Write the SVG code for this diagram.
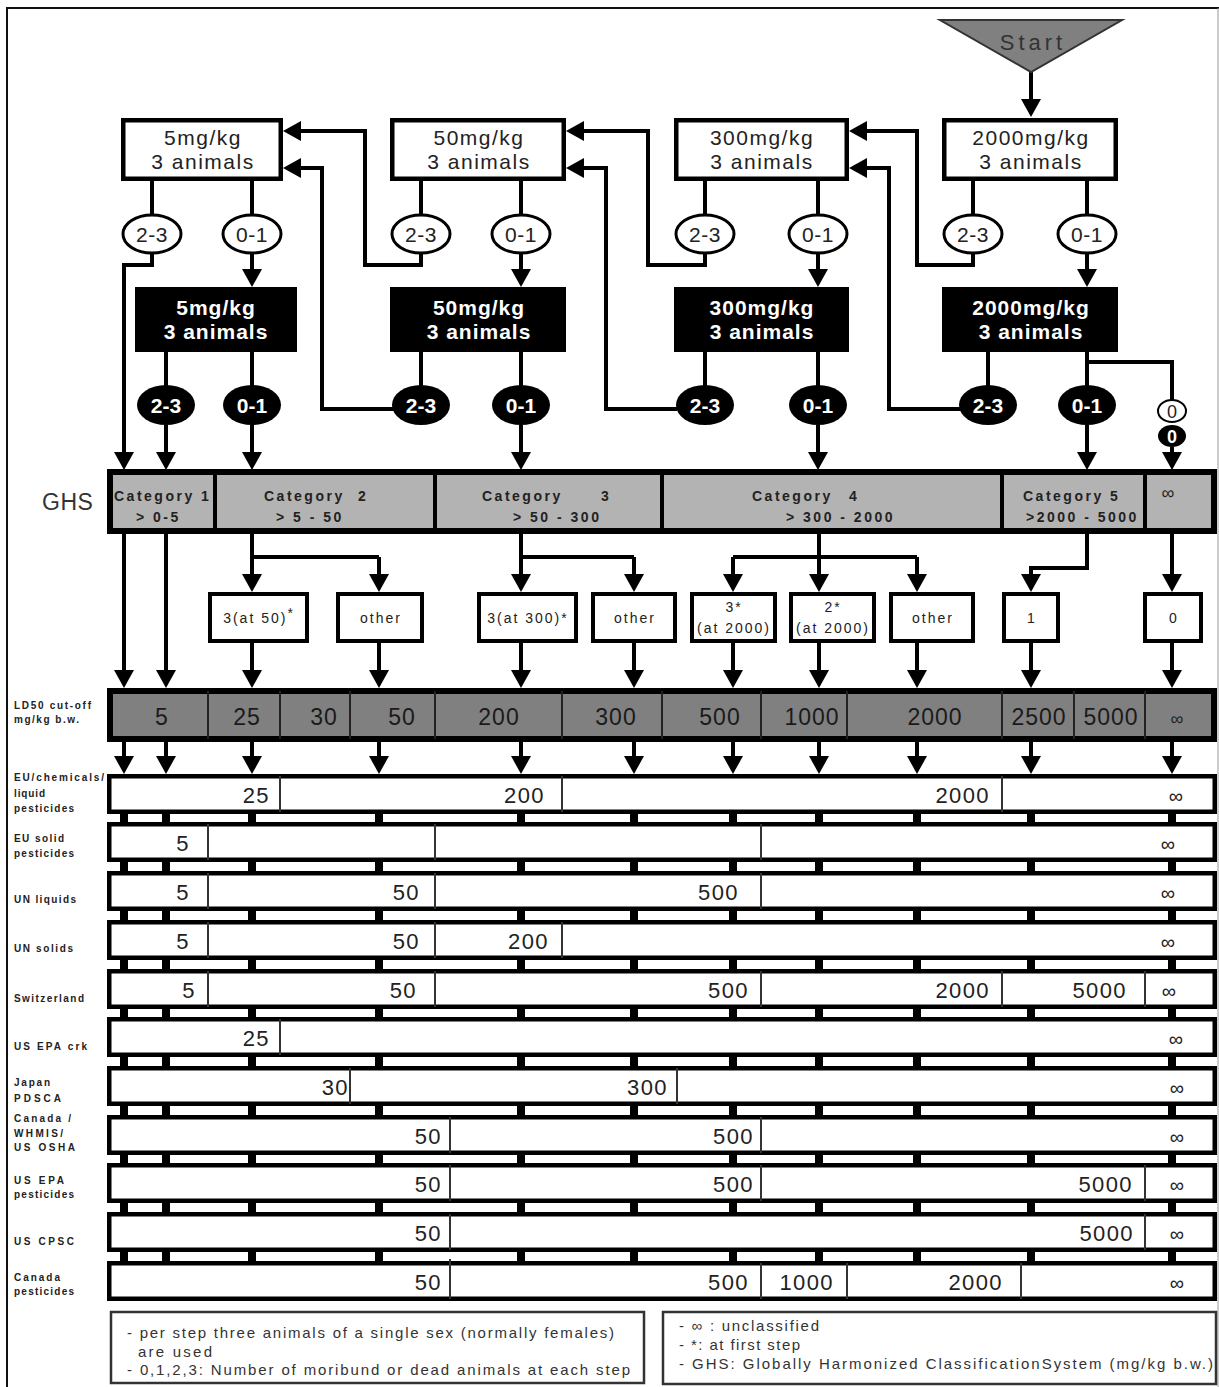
<svg xmlns="http://www.w3.org/2000/svg" width="1219" height="1387" viewBox="0 0 1219 1387">
<defs>
<marker id="ah" viewBox="0 0 18 20" refX="14" refY="10" markerWidth="18" markerHeight="20" markerUnits="userSpaceOnUse" orient="auto"><path d="M0,0 L18,10 L0,20 z" fill="#000"/></marker>
</defs>
<style>
text{font-family:"Liberation Sans",Arial,sans-serif;fill:#222}
.box{fill:#fff;stroke:#000;stroke-width:4.5}
.kbox{fill:#000}
.tb{font-size:21px;letter-spacing:1.5px;text-anchor:middle}
.tk{font-size:21px;font-weight:bold;letter-spacing:1px;text-anchor:middle;fill:#fff}
.wel{fill:#fff;stroke:#000;stroke-width:3}
.kel{fill:#000}
.te{font-size:21px;text-anchor:middle;letter-spacing:0.5px}
.tke{font-size:21px;font-weight:bold;text-anchor:middle;fill:#fff}
.c{fill:none;stroke:#000;stroke-width:4}
.a{marker-end:url(#ah)}
.cat{font-size:14px;font-weight:bold;letter-spacing:2.5px}
.ib{fill:#fff;stroke:#000;stroke-width:4}
.ti{font-size:14px;letter-spacing:2px;text-anchor:middle}
.ld{font-size:23px;letter-spacing:1px;text-anchor:middle;fill:#1a1a1a}
.row{fill:#fff;stroke:#000;stroke-width:4.5}
.dv{stroke:#333;stroke-width:2}
.v{font-size:22px;letter-spacing:1.4px;text-anchor:end}
.inf{font-size:20px;text-anchor:middle}
.lb{font-size:10px;font-weight:bold}
.lg{font-size:15px;fill:#333}
</style>
<rect width="1219" height="1387" fill="#fff"/>
<path d="M7,1387 V8 H1219" fill="none" stroke="#111" stroke-width="2"/>
<line x1="1218" y1="8" x2="1218" y2="1387" stroke="#999" stroke-width="1"/>

<g id="connectors">
<path class="c a" d="M1031,72 V113"/>
<path class="c" d="M152,181 V215 M252,181 V215 M421,181 V215 M521,181 V215 M705,181 V215 M818,181 V215 M973,181 V215 M1087,181 V215"/>
<path class="c a" d="M252,253 V283"/>
<path class="c a" d="M521,253 V283"/>
<path class="c a" d="M818,253 V283"/>
<path class="c a" d="M1087,253 V283"/>
<path class="c" d="M166,352 V386 M252,352 V386 M421,352 V386 M521,352 V386 M705,352 V386 M818,352 V386 M988,352 V386 M1087,352 V386"/>
<path class="c a" d="M152,253 V265 H124 V466"/>
<path class="c a" d="M421,253 V265 H365 V131 H287"/>
<path class="c a" d="M705,253 V265 H648 V131 H570"/>
<path class="c a" d="M973,253 V265 H917 V131 H853"/>
<path class="c a" d="M394,409 H322 V168 H287"/>
<path class="c a" d="M677,409 H606 V168 H570"/>
<path class="c a" d="M961,409 H889 V168 H853"/>
<path class="c a" d="M166,425 V466"/>
<path class="c a" d="M252,425 V466"/>
<path class="c a" d="M521,425 V466"/>
<path class="c a" d="M818,425 V466"/>
<path class="c a" d="M1087,425 V466"/>
<path class="c" d="M1087,362 H1172 V400"/>
<path class="c a" d="M1172,447 V466"/>
<path class="c a" d="M124,534 V684"/>
<path class="c a" d="M166,534 V684"/>
<path class="c" d="M252,534 V557 H379 M521,534 V557 H634 M819,534 V557 M733,557 H917"/>
<path class="c a" d="M252,557 V588"/>
<path class="c a" d="M379,557 V588"/>
<path class="c a" d="M521,557 V588"/>
<path class="c a" d="M634,557 V588"/>
<path class="c a" d="M733,557 V588"/>
<path class="c a" d="M819,557 V588"/>
<path class="c a" d="M917,557 V588"/>
<path class="c a" d="M1087,534 V568 H1031 V588"/>
<path class="c a" d="M1172,534 V588"/>
<path class="c a" d="M252,643 V684"/>
<path class="c a" d="M379,643 V684"/>
<path class="c a" d="M521,643 V684"/>
<path class="c a" d="M634,643 V684"/>
<path class="c a" d="M733,643 V684"/>
<path class="c a" d="M819,643 V684"/>
<path class="c a" d="M917,643 V684"/>
<path class="c a" d="M1031,643 V684"/>
<path class="c a" d="M1172,643 V684"/>
<path class="c a" d="M124,742 V770"/>
<path class="c a" d="M166,742 V770"/>
<path class="c a" d="M252,742 V770"/>
<path class="c a" d="M379,742 V770"/>
<path class="c a" d="M521,742 V770"/>
<path class="c a" d="M634,742 V770"/>
<path class="c a" d="M733,742 V770"/>
<path class="c a" d="M819,742 V770"/>
<path class="c a" d="M917,742 V770"/>
<path class="c a" d="M1031,742 V770"/>
<path class="c a" d="M1172,742 V770"/>
<path d="M124,810 V1264 M166,810 V1264 M252,810 V1264 M379,810 V1264 M521,810 V1264 M634,810 V1264 M733,810 V1264 M819,810 V1264 M917,810 V1264 M1031,810 V1264 M1172,810 V1264" fill="none" stroke="#000" stroke-width="8"/>
</g>

<g id="start"><polygon points="940,20 1122,20 1031,72" fill="#808080" stroke="#333" stroke-width="2"/><text x="1033" y="50" style="font-size:22px;letter-spacing:4px;text-anchor:middle;fill:#333">Start</text></g>

<g id="box-5"><rect class="box" x="123.25" y="120.25" width="157.5" height="58.5"/><text class="tb" x="203" y="145">5mg/kg</text><text class="tb" x="203" y="169">3 animals</text></g>
<g id="box-50"><rect class="box" x="392.25" y="120.25" width="171.5" height="58.5"/><text class="tb" x="479" y="145">50mg/kg</text><text class="tb" x="479" y="169">3 animals</text></g>
<g id="box-300"><rect class="box" x="676.25" y="120.25" width="170.5" height="58.5"/><text class="tb" x="762" y="145">300mg/kg</text><text class="tb" x="762" y="169">3 animals</text></g>
<g id="box-2000"><rect class="box" x="944.25" y="120.25" width="171.5" height="58.5"/><text class="tb" x="1031" y="145">2000mg/kg</text><text class="tb" x="1031" y="169">3 animals</text></g>

<g id="ew-5-23"><ellipse class="wel" cx="152" cy="234" rx="29" ry="19"/><text class="te" x="152" y="241.5">2-3</text></g>
<g id="ew-5-01"><ellipse class="wel" cx="252" cy="234" rx="29" ry="19"/><text class="te" x="252" y="241.5">0-1</text></g>
<g id="ew-50-23"><ellipse class="wel" cx="421" cy="234" rx="29" ry="19"/><text class="te" x="421" y="241.5">2-3</text></g>
<g id="ew-50-01"><ellipse class="wel" cx="521" cy="234" rx="29" ry="19"/><text class="te" x="521" y="241.5">0-1</text></g>
<g id="ew-300-23"><ellipse class="wel" cx="705" cy="234" rx="29" ry="19"/><text class="te" x="705" y="241.5">2-3</text></g>
<g id="ew-300-01"><ellipse class="wel" cx="818" cy="234" rx="29" ry="19"/><text class="te" x="818" y="241.5">0-1</text></g>
<g id="ew-2000-23"><ellipse class="wel" cx="973" cy="234" rx="29" ry="19"/><text class="te" x="973" y="241.5">2-3</text></g>
<g id="ew-2000-01"><ellipse class="wel" cx="1087" cy="234" rx="29" ry="19"/><text class="te" x="1087" y="241.5">0-1</text></g>

<g id="kbox-5"><rect class="kbox" x="135" y="287" width="162" height="65"/><text class="tk" x="216" y="315">5mg/kg</text><text class="tk" x="216" y="339">3 animals</text></g>
<g id="kbox-50"><rect class="kbox" x="390" y="287" width="176" height="65"/><text class="tk" x="479" y="315">50mg/kg</text><text class="tk" x="479" y="339">3 animals</text></g>
<g id="kbox-300"><rect class="kbox" x="674" y="287" width="175" height="65"/><text class="tk" x="762" y="315">300mg/kg</text><text class="tk" x="762" y="339">3 animals</text></g>
<g id="kbox-2000"><rect class="kbox" x="942" y="287" width="176" height="65"/><text class="tk" x="1031" y="315">2000mg/kg</text><text class="tk" x="1031" y="339">3 animals</text></g>

<g id="ek-5-23"><ellipse class="kel" cx="166" cy="405" rx="29" ry="20"/><text class="tke" x="166" y="412.5">2-3</text></g>
<g id="ek-5-01"><ellipse class="kel" cx="252" cy="405" rx="29" ry="20"/><text class="tke" x="252" y="412.5">0-1</text></g>
<g id="ek-50-23"><ellipse class="kel" cx="421" cy="405" rx="29" ry="20"/><text class="tke" x="421" y="412.5">2-3</text></g>
<g id="ek-50-01"><ellipse class="kel" cx="521" cy="405" rx="29" ry="20"/><text class="tke" x="521" y="412.5">0-1</text></g>
<g id="ek-300-23"><ellipse class="kel" cx="705" cy="405" rx="29" ry="20"/><text class="tke" x="705" y="412.5">2-3</text></g>
<g id="ek-300-01"><ellipse class="kel" cx="818" cy="405" rx="29" ry="20"/><text class="tke" x="818" y="412.5">0-1</text></g>
<g id="ek-2000-23"><ellipse class="kel" cx="988" cy="405" rx="29" ry="20"/><text class="tke" x="988" y="412.5">2-3</text></g>
<g id="ek-2000-01"><ellipse class="kel" cx="1087" cy="405" rx="29" ry="20"/><text class="tke" x="1087" y="412.5">0-1</text></g>
<g id="ew-0"><ellipse cx="1172" cy="411" rx="14" ry="11" fill="#fff" stroke="#000" stroke-width="2"/><text x="1172" y="417.5" style="font-size:18px;text-anchor:middle">0</text></g>
<g id="ek-0"><ellipse cx="1172" cy="436" rx="14" ry="11" fill="#000"/><text x="1172" y="442.5" style="font-size:18px;font-weight:bold;text-anchor:middle;fill:#fff">0</text></g>

<g id="ghs">
<text x="42" y="510" style="font-size:23px;letter-spacing:0.5px;fill:#333">GHS</text>
<rect x="110" y="472" width="1104" height="59" fill="#b3b3b3" stroke="#000" stroke-width="6"/>
<path d="M215,472 V531 M435,472 V531 M662,472 V531 M1002,472 V531 M1145,472 V531" stroke="#000" stroke-width="4"/>
<text class="cat" x="114" y="501">Category 1</text>
<text class="cat" x="136" y="522">&gt; 0-5</text>
<text class="cat" x="264" y="501">Category <tspan x="358">2</tspan></text>
<text class="cat" x="276" y="522">&gt; 5 - 50</text>
<text class="cat" x="482" y="501">Category <tspan x="601">3</tspan></text>
<text class="cat" x="513" y="522">&gt; 50 - 300</text>
<text class="cat" x="752" y="501">Category <tspan x="849">4</tspan></text>
<text class="cat" x="786" y="522">&gt; 300 - 2000</text>
<text class="cat" x="1023" y="501">Category 5</text>
<text class="cat" x="1026" y="522">&gt;2000 - 5000</text>
<text class="inf" x="1168" y="499" style="font-size:18px">∞</text>
</g>

<g id="sub-boxes">
<g id="i-3at50"><rect class="ib" x="210" y="594" width="97" height="47"/><text class="ti" x="259" y="623">3(at 50)<tspan dy="-5">*</tspan></text></g>
<g id="i-other2"><rect class="ib" x="338" y="594" width="84" height="47"/><text class="ti" x="381" y="623">other</text></g>
<g id="i-3at300"><rect class="ib" x="479" y="594" width="97" height="47"/><text class="ti" x="528" y="623">3(at 300)*</text></g>
<g id="i-other3"><rect class="ib" x="593" y="594" width="82" height="47"/><text class="ti" x="635" y="623">other</text></g>
<g id="i-3at2000"><rect class="ib" x="692" y="594" width="83" height="47"/><text class="ti" x="734" y="612">3*</text><text class="ti" x="734" y="633">(at 2000)</text></g>
<g id="i-2at2000"><rect class="ib" x="791" y="594" width="83" height="47"/><text class="ti" x="833" y="612">2*</text><text class="ti" x="833" y="633">(at 2000)</text></g>
<g id="i-other4"><rect class="ib" x="891" y="594" width="82" height="47"/><text class="ti" x="933" y="623">other</text></g>
<g id="i-1"><rect class="ib" x="1004" y="594" width="54" height="47"/><text class="ti" x="1032" y="623">1</text></g>
<g id="i-0"><rect class="ib" x="1145" y="594" width="56" height="47"/><text class="ti" x="1174" y="623">0</text></g>
</g>

<g id="ld50">
<text class="lb" x="14" y="709" textLength="77">LD50 cut-off</text>
<text class="lb" x="14" y="723" textLength="65">mg/kg b.w.</text>
<rect x="110" y="691" width="1104" height="48" fill="#808080" stroke="#000" stroke-width="6"/>
<path d="M208,691 V739 M280,691 V739 M350,691 V739 M435,691 V739 M562,691 V739 M662,691 V739 M761,691 V739 M847,691 V739 M1002,691 V739 M1074,691 V739 M1145,691 V739" stroke="#222" stroke-width="2"/>
<text class="ld" x="162" y="725">5</text>
<text class="ld" x="247" y="725">25</text>
<text class="ld" x="324" y="725">30</text>
<text class="ld" x="402" y="725">50</text>
<text class="ld" x="499" y="725">200</text>
<text class="ld" x="616" y="725">300</text>
<text class="ld" x="720" y="725">500</text>
<text class="ld" x="812" y="725">1000</text>
<text class="ld" x="935" y="725">2000</text>
<text class="ld" x="1039" y="725">2500</text>
<text class="ld" x="1111" y="725">5000</text>
<text class="inf" x="1177" y="725" style="font-size:18px">∞</text>
</g>

<g id="row-eu-chem">
<rect class="row" x="109.25" y="776.25" width="1105.5" height="35.5"/>
<path class="dv" d="M280,776 V812 M562,776 V812 M1002,776 V812"/>
<text class="lb" x="14" y="781" textLength="90">EU/chemicals/</text>
<text class="lb" x="14" y="797" textLength="31">liquid</text>
<text class="lb" x="14" y="812" textLength="60">pesticides</text>
<text class="v" x="270" y="803">25</text><text class="v" x="545" y="803">200</text><text class="v" x="990" y="803">2000</text><text class="inf" x="1176" y="803">∞</text>
</g>
<g id="row-eu-solid">
<rect class="row" x="109.25" y="824.25" width="1105.5" height="35.5"/>
<path class="dv" d="M208,824 V860 M435,824 V860 M761,824 V860"/>
<text class="lb" x="14" y="842" textLength="50">EU solid</text>
<text class="lb" x="14" y="857" textLength="60">pesticides</text>
<text class="v" x="190" y="851">5</text><text class="inf" x="1168" y="851">∞</text>
</g>
<g id="row-un-liq">
<rect class="row" x="109.25" y="873.25" width="1105.5" height="35.5"/>
<path class="dv" d="M208,873 V909 M435,873 V909 M761,873 V909"/>
<text class="lb" x="14" y="903" textLength="62">UN liquids</text>
<text class="v" x="190" y="900">5</text><text class="v" x="420" y="900">50</text><text class="v" x="739" y="900">500</text><text class="inf" x="1168" y="900">∞</text>
</g>
<g id="row-un-sol">
<rect class="row" x="109.25" y="922.25" width="1105.5" height="35.5"/>
<path class="dv" d="M208,922 V958 M435,922 V958 M562,922 V958"/>
<text class="lb" x="14" y="952" textLength="59">UN solids</text>
<text class="v" x="190" y="949">5</text><text class="v" x="420" y="949">50</text><text class="v" x="549" y="949">200</text><text class="inf" x="1168" y="949">∞</text>
</g>
<g id="row-ch">
<rect class="row" x="109.25" y="971.25" width="1105.5" height="35.5"/>
<path class="dv" d="M208,971 V1007 M435,971 V1007 M761,971 V1007 M1002,971 V1007 M1145,971 V1007"/>
<text class="lb" x="14" y="1002" textLength="70">Switzerland</text>
<text class="v" x="196" y="998">5</text><text class="v" x="417" y="998">50</text><text class="v" x="749" y="998">500</text><text class="v" x="990" y="998">2000</text><text class="v" x="1127" y="998">5000</text><text class="inf" x="1169" y="998">∞</text>
</g>
<g id="row-epa-crk">
<rect class="row" x="109.25" y="1019.25" width="1105.5" height="35.5"/>
<path class="dv" d="M280,1019 V1055"/>
<text class="lb" x="14" y="1050" textLength="73">US EPA crk</text>
<text class="v" x="270" y="1046">25</text><text class="inf" x="1176" y="1046">∞</text>
</g>
<g id="row-japan">
<rect class="row" x="109.25" y="1068.25" width="1105.5" height="35.5"/>
<path class="dv" d="M350,1068 V1104 M677,1068 V1104"/>
<text class="lb" x="14" y="1086" textLength="36">Japan</text>
<text class="lb" x="14" y="1102" textLength="47">PDSCA</text>
<text class="v" x="349" y="1095">30</text><text class="v" x="668" y="1095">300</text><text class="inf" x="1177" y="1095">∞</text>
</g>
<g id="row-canada-whmis">
<rect class="row" x="109.25" y="1117.25" width="1105.5" height="35.5"/>
<path class="dv" d="M450,1117 V1153 M761,1117 V1153"/>
<text class="lb" x="14" y="1122" textLength="57">Canada /</text>
<text class="lb" x="14" y="1137" textLength="49">WHMIS/</text>
<text class="lb" x="14" y="1151" textLength="61">US OSHA</text>
<text class="v" x="442" y="1144">50</text><text class="v" x="754" y="1144">500</text><text class="inf" x="1177" y="1144">∞</text>
</g>
<g id="row-epa-pest">
<rect class="row" x="109.25" y="1165.25" width="1105.5" height="35.5"/>
<path class="dv" d="M450,1165 V1201 M761,1165 V1201 M1145,1165 V1201"/>
<text class="lb" x="14" y="1184" textLength="50">US EPA</text>
<text class="lb" x="14" y="1198" textLength="60">pesticides</text>
<text class="v" x="442" y="1192">50</text><text class="v" x="754" y="1192">500</text><text class="v" x="1133" y="1192">5000</text><text class="inf" x="1177" y="1192">∞</text>
</g>
<g id="row-cpsc">
<rect class="row" x="109.25" y="1214.25" width="1105.5" height="35.5"/>
<path class="dv" d="M450,1214 V1250 M1145,1214 V1250"/>
<text class="lb" x="14" y="1245" textLength="60">US CPSC</text>
<text class="v" x="442" y="1241">50</text><text class="v" x="1134" y="1241">5000</text><text class="inf" x="1177" y="1241">∞</text>
</g>
<g id="row-canada-pest">
<rect class="row" x="109.25" y="1263.25" width="1105.5" height="35.5"/>
<path class="dv" d="M450,1259 V1299 M761,1263 V1299 M847,1263 V1299 M1021,1263 V1299"/>
<text class="lb" x="14" y="1281" textLength="46">Canada</text>
<text class="lb" x="14" y="1295" textLength="60">pesticides</text>
<text class="v" x="442" y="1290">50</text><text class="v" x="749" y="1290">500</text><text class="v" x="834" y="1290">1000</text><text class="v" x="1003" y="1290">2000</text><text class="inf" x="1177" y="1290">∞</text>
</g>

<g id="legend-left">
<rect x="111" y="1312" width="533" height="71" fill="#fff" stroke="#333" stroke-width="2.5"/>
<text class="lg" x="127" y="1338" textLength="487">- per step three animals of a single sex (normally females)</text>
<text class="lg" x="138" y="1357" textLength="74">are used</text>
<text class="lg" x="127" y="1375" textLength="503">- 0,1,2,3: Number of moribund or dead animals at each step</text>
</g>
<g id="legend-right">
<rect x="663" y="1312" width="553" height="72" fill="#fff" stroke="#333" stroke-width="2.5"/>
<text class="lg" x="679" y="1331" textLength="140">- ∞ : unclassified</text>
<text class="lg" x="679" y="1350" textLength="121">- *: at first step</text>
<text class="lg" x="679" y="1369" textLength="534">- GHS: Globally Harmonized ClassificationSystem (mg/kg b.w.)</text>
</g>
</svg>
